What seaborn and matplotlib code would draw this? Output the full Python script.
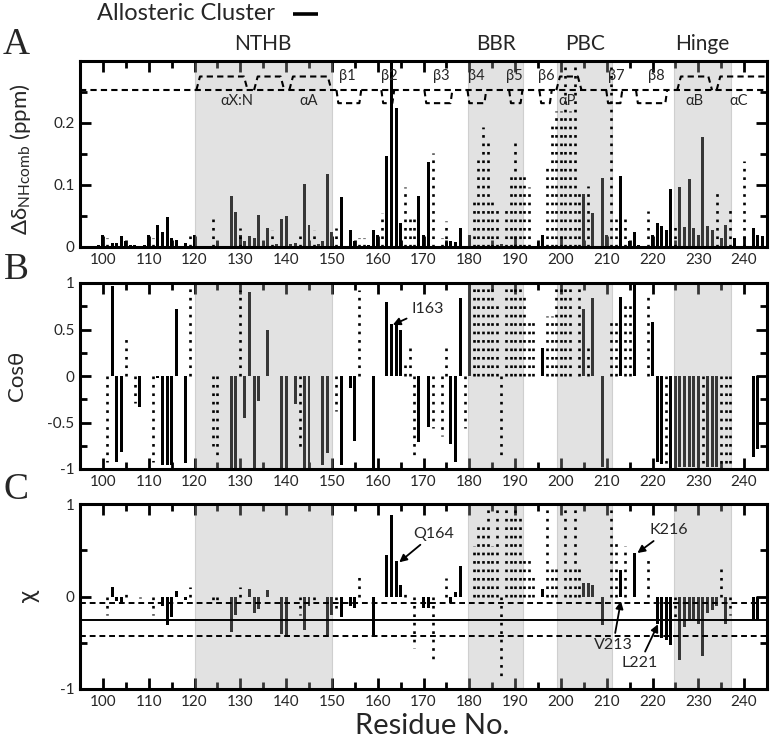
import numpy as np
import pandas as pd
import matplotlib
matplotlib.use("Agg")
import matplotlib.pyplot as plt
import matplotlib.transforms as mtrans
from matplotlib.lines import Line2D
from matplotlib.ticker import MultipleLocator, FixedLocator
import seaborn as sns

# ---------------- data ----------------
# panel A : chemical shift changes (ppm)
a_res = [99, 100, 102, 103, 104, 105, 106, 107, 109, 110, 112, 113, 114, 115, 116, 118, 120,
         125, 128, 129, 130, 131, 132, 133, 134, 135, 136, 138, 139, 140, 141, 142, 144, 145,
         147, 148, 149, 150, 152, 154, 155, 158, 159, 160, 162, 163, 164, 165, 169, 170, 171,
         175, 176, 177, 178, 180, 187, 190, 195, 196, 205, 207, 209, 210, 213, 215, 216, 217,
         220, 221, 222, 223, 224, 226, 227, 228, 229, 230, 231, 232, 233, 235, 236, 238, 242,
         243, 244]
a_val = [0.004, 0.02, 0.007, 0.007, 0.017, 0.009, 0.003, 0.003, 0.003, 0.02, 0.035, 0.025, 0.049,
         0.015, 0.012, 0.006, 0.02, 0.01, 0.083, 0.056, 0.02, 0.01, 0.018, 0.015, 0.051, 0.01,
         0.03, 0.005, 0.045, 0.05, 0.005, 0.006, 0.101, 0.035, 0.005, 0.009, 0.117, 0.025, 0.081,
         0.028, 0.01, 0.004, 0.028, 0.02, 0.147, 0.32, 0.225, 0.039, 0.082, 0.02, 0.137, 0.008,
         0.01, 0.008, 0.031, 0.02, 0.005, 0.005, 0.008, 0.02, 0.085, 0.055, 0.112, 0.02, 0.115,
         0.01, 0.025, 0.004, 0.02, 0.039, 0.034, 0.028, 0.093, 0.096, 0.032, 0.11, 0.031, 0.02,
         0.177, 0.034, 0.028, 0.015, 0.036, 0.015, 0.031, 0.02, 0.017]
a_dot_res = [101, 111, 119, 124, 130, 137, 143, 146, 151, 156, 157, 161, 166, 167, 168, 172, 174,
             175, 181, 182, 183, 184, 185, 186, 188, 189, 190, 191, 192, 193, 197, 198, 199, 200,
             201, 202, 203, 204, 206, 211, 212, 214, 219, 225, 234, 237, 240]
a_dot_val = [0.015, 0.015, 0.017, 0.045, 0.03, 0.028, 0.017, 0.028, 0.03, 0.015, 0.015, 0.055,
             0.097, 0.045, 0.045, 0.152, 0.015, 0.042, 0.072, 0.141, 0.193, 0.169, 0.072, 0.06,
             0.06, 0.12, 0.169, 0.12, 0.12, 0.097, 0.13, 0.2, 0.22, 0.22, 0.3, 0.22, 0.3, 0.09,
             0.098, 0.3, 0.045, 0.045, 0.058, 0.04, 0.087, 0.068, 0.139]

# panel B : cos(theta)
b_res = [102, 103, 104, 108, 112, 113, 114, 115, 116, 118, 128, 129, 131, 132, 133, 134, 136,
         139, 140, 142, 144, 145, 148, 149, 152, 154, 155, 159, 162, 163, 164, 165, 169, 171,
         176, 177, 178, 180, 196, 205, 207, 209, 213, 216, 220, 221, 222, 224, 225, 226, 227,
         228, 229, 230, 232, 233, 234, 242, 243]
b_val = [0.97, -0.92, -0.82, -0.33, -0.02, -0.96, -0.96, -0.96, 0.72, -0.94, -1.0, -1.0, -0.45,
         0.9, -1.0, -0.27, 0.5, -1.0, -1.0, -0.3, -1.0, -1.0, -0.96, -0.83, -0.96, -0.13, -0.7,
         -1.0, 0.8, 0.56, 0.56, 0.5, -0.71, -0.55, -0.73, -0.93, 0.84, 1.0, 0.3, 0.72, 0.84,
         -0.98, 0.85, 1.0, 0.58, -0.92, -0.95, -0.99, -0.98, -0.98, -0.98, -0.98, -0.98, -0.98,
         -0.98, -0.98, -0.98, -0.87, -0.78]
b_dot_res = [101, 105, 107, 111, 119, 124, 125, 130, 143, 151, 156, 166, 167, 168, 172, 174, 175,
             179, 181, 182, 183, 184, 185, 186, 187, 188, 189, 190, 191, 192, 193, 194, 197, 198,
             199, 200, 201, 202, 204, 206, 211, 212, 214, 215, 219, 223, 231, 235, 236, 237]
b_dot_val = [-0.92, 0.4, -0.29, -0.92, 0.97, -0.75, -0.85, 0.92, -0.8, -0.38, 0.92, 0.12, 0.3,
             -0.85, -0.56, -0.65, 0.3, -0.56, 0.95, 0.97, 0.95, 0.95, 0.97, 0.8, -0.9, 0.97, 0.97,
             0.95, 0.97, 0.9, 0.6, 0.6, 0.65, 0.65, 0.95, 0.95, 0.95, 0.95, 0.97, 0.3, 0.6, 0.58,
             0.8, 0.8, 0.9, -0.97, -0.98, -0.97, -0.98, -0.97]

# panel C : chi
c_res = [102, 103, 104, 113, 114, 115, 116, 118, 128, 129, 132, 133, 134, 136, 139, 140, 144,
         145, 149, 150, 152, 154, 155, 159, 162, 163, 164, 165, 170, 171, 176, 177, 178, 196,
         205, 206, 207, 209, 213, 216, 221, 222, 223, 224, 226, 227, 228, 229, 230, 231, 232,
         233, 234, 236, 242, 243]
c_val = [0.1, -0.05, -0.08, -0.1, -0.31, -0.22, 0.06, -0.04, -0.38, -0.2, 0.08, -0.18, -0.13,
         0.07, -0.4, -0.42, -0.36, -0.1, -0.42, -0.2, -0.22, -0.1, -0.12, -0.42, 0.45, 0.88,
         0.38, 0.12, -0.12, -0.12, -0.07, 0.05, 0.33, 0.08, 0.15, 0.15, 0.12, -0.31, 0.29, 0.47,
         -0.3, -0.45, -0.47, -0.52, -0.69, -0.33, -0.25, -0.24, -0.3, -0.64, -0.18, -0.15, -0.1,
         -0.3, -0.25, -0.25]
c_dot_res = [101, 105, 108, 111, 119, 124, 125, 130, 143, 146, 151, 156, 166, 168, 172, 175, 181,
             182, 183, 184, 185, 186, 187, 188, 189, 190, 191, 192, 193, 194, 197, 198, 199, 201,
             202, 203, 204, 211, 212, 214, 219, 225, 235, 237]
c_dot_val = [-0.2, 0.03, -0.02, -0.2, 0.1, -0.05, -0.05, 0.1, -0.2, -0.05, -0.15, 0.22, 0.07,
             -0.56, -0.72, 0.2, 0.55, 0.8, 0.8, 0.97, 0.55, 0.97, -0.86, 0.97, 0.9, 0.97, 0.9,
             0.45, 0.4, 0.25, 0.97, 0.3, 0.3, 0.97, 0.3, 0.97, 0.3, 0.97, 0.6, 0.55, 0.45, -0.25,
             0.3, -0.2]
chi_mean = -0.25
chi_band = [-0.07, -0.43]

# shaded regions
regions = ["NTHB", "BBR", "PBC", "Hinge"]
region_start = [120, 179.8, 199.2, 224.7]
region_end = [150, 191.7, 211.2, 237.2]

# secondary structure
helix_names = ["αX:N", "", "αA", "αP", "αB", "αC"]
helix_start = [120.4, 133.0, 140.7, 199.0, 225.4, 234.0]
helix_end = [131.6, 139.6, 149.9, 204.5, 233.0, 246.0]
helix_lab = [129.2, 0, 144.9, 201.4, 229.1, 238.9]
strand_names = ["β1", "β2", "β3", "β4", "β5", "β6", "β7", "β8"]
strand_start = [151.0, 160.8, 170.2, 179.6, 188.7, 195.3, 209.9, 216.4]
strand_end = [156.4, 163.6, 176.3, 183.7, 191.6, 198.0, 213.4, 223.2]
strand_lab = [153.4, 162.5, 173.9, 181.5, 189.8, 196.8, 212.0, 220.8]

# ---------------- style ----------------
sns.set_theme(style="white")
plt.rcParams["font.family"] = ["Lato", "Noto Sans", "DejaVu Sans"]
plt.rcParams["axes.unicode_minus"] = False
plt.rcParams["lines.solid_capstyle"] = "butt"
plt.rcParams["lines.dash_capstyle"] = "butt"

W, H = 772, 743
fig = plt.figure(figsize=(W / 100, H / 100), dpi=100)


def box(top, bottom):
    return [80 / W, 1 - bottom / H, 687 / W, (bottom - top) / H]


axA = fig.add_axes(box(61, 247))
axB = fig.add_axes(box(283, 469))
axC = fig.add_axes(box(504, 689))

dots = (0, (1, 2.2))


def draw_panel(ax, res, val, dres, dval):
    df = pd.DataFrame({"res": res, "val": val})
    sns.barplot(data=df, x="res", y="val", native_scale=True, color="black", saturation=1,
                width=0.65, errorbar=None, linewidth=0, orient="x", ax=ax)
    for s, e in zip(region_start, region_end):
        ax.axvspan(s, e, facecolor="#a9a9a9", alpha=0.33, edgecolor="#8c8c8c", lw=0.8, zorder=2)
    ax.vlines(dres, 0, dval, colors="black", linestyles=[dots], lw=1.9, zorder=3)
    ax.set_xlim(95, 245)
    ax.xaxis.set_major_locator(MultipleLocator(10))
    ax.xaxis.set_minor_locator(MultipleLocator(5))
    ax.tick_params(which="both", direction="in", top=True, right=True, bottom=True, left=True,
                   width=2, labelsize=11, pad=4, color="black")
    ax.tick_params(which="major", length=8)
    ax.tick_params(which="minor", length=5)
    for sp in ax.spines.values():
        sp.set_linewidth(2.2)
        sp.set_color("black")
    ax.set_xlabel("")


draw_panel(axA, a_res, a_val, a_dot_res, a_dot_val)
draw_panel(axB, b_res, b_val, b_dot_res, b_dot_val)
draw_panel(axC, c_res, c_val, c_dot_res, c_dot_val)

# panel A axis
axA.set_ylim(0, 0.3)
axA.yaxis.set_major_locator(FixedLocator([0, 0.1, 0.2]))
axA.yaxis.set_minor_locator(FixedLocator([0.05, 0.15, 0.25]))
axA.set_yticklabels(["0", "0.1", "0.2"])
axA.set_ylabel("Δδ$_\\mathregular{NHcomb}$ (ppm)", fontsize=16)
axA.yaxis.set_label_coords(-0.068, 0.47)

# panel B axis
axB.set_ylim(-1, 1)
axB.yaxis.set_major_locator(FixedLocator([-1, -0.5, 0, 0.5, 1]))
axB.yaxis.set_minor_locator(FixedLocator([-0.75, -0.25, 0.25, 0.75]))
axB.set_yticklabels(["-1", "-0.5", "0", "0.5", "1"])
axB.set_ylabel("Cosθ", fontsize=16)
axB.yaxis.set_label_coords(-0.077, 0.5)

# panel C axis
axC.set_ylim(-1, 1)
axC.yaxis.set_major_locator(FixedLocator([-1, 0, 1]))
axC.yaxis.set_minor_locator(FixedLocator([-0.5, 0.5]))
axC.set_yticklabels(["-1", "0", "1"])
axC.set_ylabel("χ", fontsize=18)
axC.yaxis.set_label_coords(-0.058, 0.5)
axC.axhline(chi_mean, color="black", lw=1.4, zorder=4)
for lvl in chi_band:
    axC.axhline(lvl, color="black", lw=1.4, ls=(0, (3, 2)), zorder=4)

# secondary structure cartoon on panel A
base = 0.253
cart = dict(color="black", lw=1.5, ls=(0, (3, 2)), zorder=4, clip_on=False)
axA.plot([95, 245], [base, base], **cart)
for s, e, nm, lx in zip(helix_start, helix_end, helix_names, helix_lab):
    e2 = min(e, 245)
    xs = [s, s + 0.8, e2 - 0.8, e2] if e <= 245 else [s, s + 0.8, 245]
    ys = [base, 0.275, 0.275, base] if e <= 245 else [base, 0.275, 0.275]
    axA.plot(xs, ys, **cart)
    if nm:
        axA.text(lx, 0.236, nm, ha="center", va="center", fontsize=10.5, zorder=5)
for s, e, nm, lx in zip(strand_start, strand_end, strand_names, strand_lab):
    axA.plot([s, s + 0.4, e - 0.4, e], [base, 0.232, 0.232, base], **cart)
    axA.text(lx, 0.276, nm, ha="center", va="center", fontsize=10.5, zorder=5)

# region names above panel A
trA = mtrans.blended_transform_factory(axA.transData, axA.transAxes)
for nm, s, e in zip(regions, region_start, region_end):
    axA.text((s + e) / 2, 1.035, nm, transform=trA, ha="center", va="bottom", fontsize=15)

# annotations
arrow = dict(arrowstyle="-|>", color="black", lw=1.3, mutation_scale=11, shrinkA=1, shrinkB=0)
axB.annotate("I163", xy=(163.3, 0.55), xytext=(167.3, 0.72), ha="left", va="center",
             fontsize=11.5, arrowprops=arrow, zorder=6)
axC.annotate("Q164", xy=(164.7, 0.37), xytext=(167.8, 0.68), ha="left", va="center",
             fontsize=11.5, arrowprops=arrow, zorder=6)
axC.annotate("K216", xy=(216.7, 0.47), xytext=(219.3, 0.72), ha="left", va="center",
             fontsize=11.5, arrowprops=arrow, zorder=6)
axC.annotate("V213", xy=(213.1, -0.05), xytext=(211.4, -0.52), ha="center", va="center",
             fontsize=11.5, arrowprops=arrow, zorder=6)
axC.annotate("L221", xy=(221.2, -0.3), xytext=(217.2, -0.72), ha="center", va="center",
             fontsize=11.5, arrowprops=arrow, zorder=6)

# figure level text
for lab, yc in zip(["A", "B", "C"], [45, 270, 490]):
    fig.text(16 / W, 1 - yc / H, lab, ha="center", va="center", fontsize=27,
             family="Liberation Serif")
fig.text(432 / W, 1 - 726 / H, "Residue No.", ha="center", va="center", fontsize=21)
fig.text(186 / W, 1 - 14 / H, "Allosteric Cluster", ha="center", va="center", fontsize=17)
fig.add_artist(Line2D([293 / W, 318 / W], [1 - 14 / H, 1 - 14 / H], color="black", lw=2.6))

fig.savefig("out.png", dpi=100)
